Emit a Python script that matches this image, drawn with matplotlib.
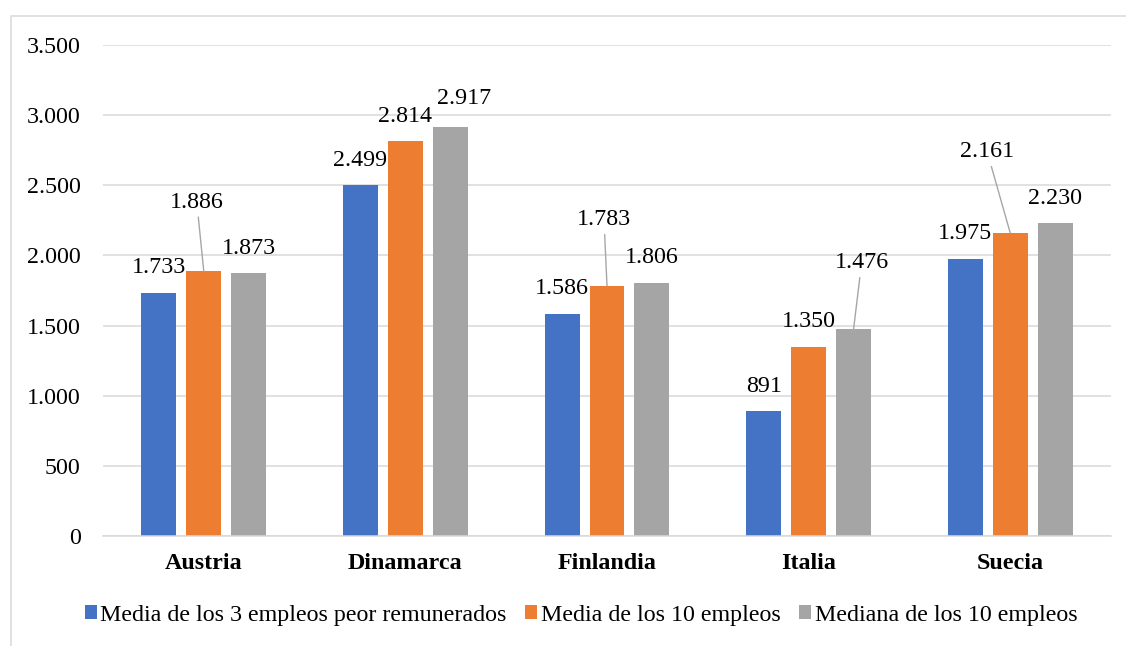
import matplotlib
matplotlib.use("Agg")
import matplotlib.pyplot as plt
from matplotlib.patches import Rectangle
from matplotlib.ticker import FuncFormatter, MultipleLocator
import numpy as np

paises = ["Austria", "Dinamarca", "Finlandia", "Italia", "Suecia"]
nombres_series = [
    "Media de los 3 empleos peor remunerados",
    "Media de los 10 empleos",
    "Mediana de los 10 empleos",
]
media_3_peor = [1733, 2499, 1586, 891, 1975]
media_10 = [1886, 2814, 1783, 1350, 2161]
mediana_10 = [1873, 2917, 1806, 1476, 2230]
valores = [media_3_peor, media_10, mediana_10]
colores = ["#4472C4", "#ED7D31", "#A5A5A5"]

# Label placement in pixels (dx, dy) from the top centre of each bar
DESPL_DEFECTO = (0, 25)
desplazamientos = {
    (1, 0): (-7, 69),
    (2, 1): (14, 28),
    (1, 2): (-3, 66),
    (2, 3): (8, 66),
    (1, 4): (-23, 81),
}
con_guia = {(1, 0), (1, 2), (2, 3), (1, 4)}

plt.rcParams["font.family"] = ["Liberation Serif", "DejaVu Serif"]
FS = 17.3
GRIS_LINEA = "#d9d9d9"
PX = 0.72  # points per pixel at 100 dpi


def miles(v, _pos=None):
    return f"{int(round(v)):,}".replace(",", ".")


W, H = 1126, 646
fig = plt.figure(figsize=(W / 100, H / 100), dpi=100)
ax = fig.add_axes([103 / W, 1 - 536 / H, 1008 / W, 491 / H])

x = np.arange(len(paises))
ancho = 0.1736
paso = 0.2232
for i, (vals, col, nom) in enumerate(zip(valores, colores, nombres_series)):
    xs = x + (i - 1) * paso
    ax.bar(xs, vals, width=ancho, color=col, label=nom, zorder=2)
    for j, (xc, v) in enumerate(zip(xs, vals)):
        dx, dy = desplazamientos.get((i, j), DESPL_DEFECTO)
        props = None
        if (i, j) in con_guia:
            props = dict(arrowstyle="-", color="#a6a6a6", lw=1.0,
                         shrinkA=1, shrinkB=0)
        ax.annotate(miles(v), xy=(xc, v), xytext=(dx * PX, dy * PX),
                    textcoords="offset points", ha="center", va="center",
                    fontsize=FS, color="black", arrowprops=props, zorder=3)

ax.set_xlim(-0.5, len(paises) - 0.5)
ax.set_ylim(0, 3500)
ax.yaxis.set_major_locator(MultipleLocator(500))
ax.yaxis.set_major_formatter(FuncFormatter(miles))
ax.set_xticks(x)
ax.set_xticklabels(paises, fontweight="bold", fontsize=FS)
ax.tick_params(axis="y", length=0, pad=16, labelsize=FS)
ax.tick_params(axis="x", length=0, pad=12.5)
ax.grid(axis="y", color=GRIS_LINEA, lw=1.1, zorder=0)
ax.set_axisbelow(True)
for lado in ("top", "right", "left"):
    ax.spines[lado].set_visible(False)
ax.spines["bottom"].set_color(GRIS_LINEA)
ax.spines["bottom"].set_linewidth(1.1)

fig.legend(loc="center", bbox_to_anchor=(581 / W, 1 - 615 / H), ncol=3,
           frameon=False, fontsize=FS, handlelength=0.5, handleheight=0.5,
           handletextpad=0.16, columnspacing=0.76, borderaxespad=0,
           borderpad=0)

# Chart area frame
fig.patches.append(Rectangle((11 / W, -0.1), 1.2, 1 - 16 / H + 0.1,
                             transform=fig.transFigure, fill=False,
                             edgecolor=GRIS_LINEA, lw=1.1, zorder=0))

fig.savefig("out.png", dpi=100)
